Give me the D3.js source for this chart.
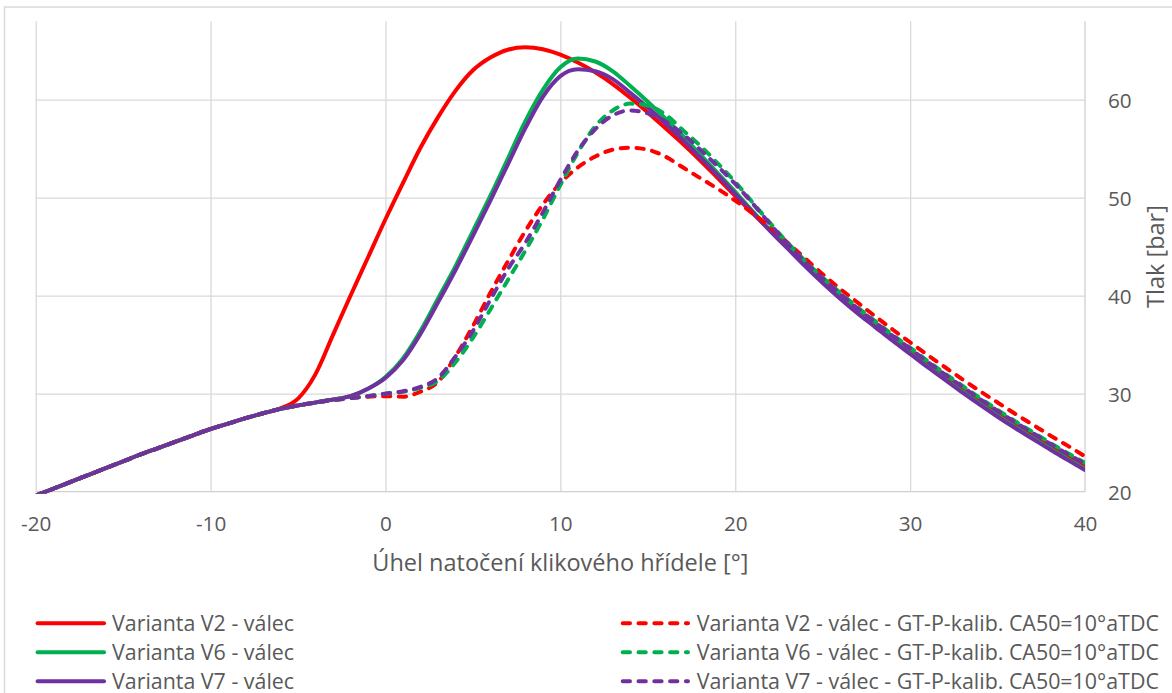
<!DOCTYPE html>
<html>
<head>
<meta charset="utf-8">
<script src="https://cdn.jsdelivr.net/npm/d3@7"></script>
<style>
  html, body { margin: 0; padding: 0; background: #ffffff; }
  svg { display: block; }
  text { font-family: "Open Sans", "Noto Sans", sans-serif; fill: #595959; }
</style>
</head>
<body>
<svg id="chart" width="1172" height="693"></svg>
<script>
// Crank angle [deg] shared by every series
const angle = [-20, -19, -18, -17, -16, -15, -14, -13, -12, -11, -10, -9, -8, -7, -6, -5, -4, -3, -2, -1,
  0, 1, 2, 3, 4, 5, 6, 7, 8, 9, 10, 11, 12, 13, 14, 15, 16, 17, 18, 19, 20,
  21, 22, 23, 24, 25, 26, 27, 28, 29, 30, 31, 32, 33, 34, 35, 36, 37, 38, 39, 40];

// Cylinder pressure [bar]
const v2Valec = [19.6, 20.3, 21.0, 21.7, 22.4, 23.1, 23.8, 24.45, 25.1, 25.75, 26.4, 26.95, 27.5, 28.0,
  28.5, 29.5, 32.0, 36.0, 40.0, 43.9, 47.8, 51.5, 55.1, 58.2, 60.9, 63.0, 64.3, 65.1, 65.35, 65.15,
  64.6, 63.8, 62.8, 61.6, 60.2, 58.7, 57.1, 55.5, 53.8, 52.0, 50.2, 48.4, 46.65, 44.95, 43.3, 41.6,
  40.0, 38.5, 37.1, 35.7, 34.35, 33.0, 31.7, 30.4, 29.2, 28.0, 26.85, 25.75, 24.65, 23.6, 22.6];

const v6Valec = [19.6, 20.3, 21.0, 21.7, 22.4, 23.1, 23.8, 24.45, 25.1, 25.75, 26.4, 26.95, 27.5, 28.0,
  28.45, 28.8, 29.1, 29.4, 29.75, 30.5, 31.7, 33.6, 36.4, 39.7, 43.0, 46.6, 50.2, 54.0, 57.8, 61.0,
  63.3, 64.2, 63.9, 62.9, 61.4, 59.8, 58.1, 56.3, 54.4, 52.5, 50.6, 48.6, 46.7, 44.9, 43.1, 41.4,
  39.8, 38.3, 36.9, 35.5, 34.15, 32.8, 31.5, 30.2, 28.95, 27.75, 26.6, 25.5, 24.4, 23.35, 22.3];

const v7Valec = [19.6, 20.3, 21.0, 21.7, 22.4, 23.1, 23.8, 24.45, 25.1, 25.75, 26.4, 26.95, 27.5, 28.0,
  28.45, 28.8, 29.1, 29.4, 29.75, 30.5, 31.6, 33.4, 36.1, 39.3, 42.6, 46.1, 49.7, 53.4, 57.1, 60.3,
  62.4, 63.1, 62.9, 62.1, 60.7, 59.2, 57.6, 55.9, 54.1, 52.3, 50.4, 48.5, 46.6, 44.8, 43.0, 41.3,
  39.7, 38.2, 36.8, 35.4, 34.05, 32.7, 31.4, 30.1, 28.85, 27.65, 26.5, 25.4, 24.3, 23.25, 22.2];

const v2Kalib = [19.6, 20.3, 21.0, 21.7, 22.4, 23.1, 23.8, 24.45, 25.1, 25.75, 26.4, 26.95, 27.5, 28.0,
  28.45, 28.8, 29.1, 29.35, 29.55, 29.7, 29.75, 29.7, 30.2, 31.2, 33.8, 36.9, 40.3, 43.5, 46.6, 49.3,
  51.5, 53.1, 54.2, 54.9, 55.1, 54.9, 54.2, 53.1, 52.0, 50.9, 49.7, 48.4, 47.0, 45.4, 43.8, 42.2,
  40.7, 39.3, 37.9, 36.55, 35.25, 33.95, 32.7, 31.45, 30.25, 29.1, 27.95, 26.85, 25.75, 24.7, 23.6];

const v6Kalib = [19.6, 20.3, 21.0, 21.7, 22.4, 23.1, 23.8, 24.45, 25.1, 25.75, 26.4, 26.95, 27.5, 28.0,
  28.45, 28.8, 29.1, 29.35, 29.55, 29.75, 30.0, 30.2, 30.6, 31.3, 33.2, 35.7, 38.6, 41.6, 44.6, 47.8,
  51.3, 54.6, 57.3, 58.9, 59.6, 59.4, 58.5, 56.9, 55.3, 53.5, 51.6, 49.5, 47.4, 45.4, 43.55, 41.85,
  40.3, 38.8, 37.4, 36.0, 34.7, 33.35, 32.05, 30.8, 29.55, 28.35, 27.2, 26.1, 25.0, 23.95, 22.95];

const v7Kalib = [19.6, 20.3, 21.0, 21.7, 22.4, 23.1, 23.8, 24.45, 25.1, 25.75, 26.4, 26.95, 27.5, 28.0,
  28.45, 28.8, 29.1, 29.35, 29.55, 29.75, 30.0, 30.25, 30.7, 31.6, 33.8, 36.4, 39.6, 42.7, 45.4, 48.5,
  51.8, 54.8, 57.0, 58.4, 58.9, 58.6, 57.8, 56.5, 54.9, 53.2, 51.4, 49.4, 47.3, 45.3, 43.45, 41.75,
  40.2, 38.7, 37.3, 35.9, 34.6, 33.25, 31.95, 30.7, 29.45, 28.25, 27.1, 26.0, 24.9, 23.85, 22.85];

// Series names, in drawing order
const seriesNames = [
  "Varianta V2 - válec",
  "Varianta V6 - válec",
  "Varianta V7 - válec",
  "Varianta V2 - válec - GT-P-kalib. CA50=10°aTDC",
  "Varianta V6 - válec - GT-P-kalib. CA50=10°aTDC",
  "Varianta V7 - válec - GT-P-kalib. CA50=10°aTDC"
];
const seriesValues = [v2Valec, v6Valec, v7Valec, v2Kalib, v6Kalib, v7Kalib];
const seriesColors = ["#FF0000", "#00B050", "#7030A0", "#FF0000", "#00B050", "#7030A0"];
const seriesDashed = [false, false, false, true, true, true];

// Axis ticks
const xTicks = [-20, -10, 0, 10, 20, 30, 40];
const xTickLabels = ["-20", "-10", "0", "10", "20", "30", "40"];
const yTicks = [20, 30, 40, 50, 60];
const yTickLabels = ["20", "30", "40", "50", "60"];
const xTitle = "Úhel natočení klikového hřídele [°]";
const yTitle = "Tlak [bar]";

// ---- layout ----
const plot = { left: 35.7, right: 1085, top: 21.3, bottom: 491.7 };
const x = d3.scaleLinear().domain([-20, 40]).range([plot.left, plot.right]);
const y = d3.scaleLinear().domain([20, 68]).range([plot.bottom, plot.top]);

const svg = d3.select("#chart");
const gridColor = "#d9d9d9";

// chart frame
svg.append("rect")
  .attr("x", 4.5).attr("y", 7).attr("width", 1200).attr("height", 720)
  .attr("fill", "none").attr("stroke", gridColor).attr("stroke-width", 1.5);

// vertical gridlines
const xGrid = svg.append("g")
  .attr("transform", `translate(0,${plot.bottom})`)
  .call(d3.axisBottom(x).tickValues(xTicks.slice(0, -1)).tickSize(-(plot.bottom - plot.top)).tickFormat(""));
xGrid.select(".domain").remove();
xGrid.selectAll(".tick line").attr("stroke", gridColor).attr("stroke-width", 1.3);

// horizontal gridlines
const yGrid = svg.append("g")
  .attr("transform", `translate(${plot.left},0)`)
  .call(d3.axisRight(y).tickValues(yTicks.slice(1)).tickSize(plot.right - plot.left).tickFormat(""));
yGrid.select(".domain").remove();
yGrid.selectAll(".tick line").attr("stroke", gridColor).attr("stroke-width", 1.3);

// axis lines
svg.append("line")
  .attr("x1", plot.left).attr("x2", plot.right).attr("y1", plot.bottom).attr("y2", plot.bottom)
  .attr("stroke", "#cfcfcf").attr("stroke-width", 1.3);
svg.append("line")
  .attr("x1", plot.right).attr("x2", plot.right).attr("y1", plot.top).attr("y2", plot.bottom)
  .attr("stroke", "#cfcfcf").attr("stroke-width", 1.3);

// x tick labels
const xAxis = svg.append("g")
  .attr("transform", `translate(0,${plot.bottom})`)
  .call(d3.axisBottom(x).tickValues(xTicks).tickSize(0)
    .tickFormat((d, i) => xTickLabels[i]));
xAxis.select(".domain").remove();
xAxis.selectAll("text")
  .attr("y", 39.3).attr("dy", 0)
  .style("font-size", "20.7px").style("fill", "#595959");

// y tick labels (right side)
const yAxis = svg.append("g")
  .attr("transform", `translate(${plot.right},0)`)
  .call(d3.axisRight(y).tickValues(yTicks).tickSize(0)
    .tickFormat((d, i) => yTickLabels[i]));
yAxis.select(".domain").remove();
yAxis.selectAll("text")
  .attr("x", 23).attr("dy", "0.36em").attr("text-anchor", "start")
  .style("font-size", "20.7px").style("fill", "#595959");

// axis titles
svg.append("text")
  .attr("x", (plot.left + plot.right) / 2).attr("y", 571)
  .attr("text-anchor", "middle").style("font-size", "23.5px")
  .text(xTitle);
svg.append("text")
  .attr("transform", `translate(1163.5,${(plot.top + plot.bottom) / 2}) rotate(-90)`)
  .attr("text-anchor", "middle").style("font-size", "23.5px")
  .text(yTitle);

// ---- series ----
svg.append("clipPath").attr("id", "plotClip")
  .append("rect")
  .attr("x", plot.left).attr("y", plot.top - 2)
  .attr("width", plot.right - plot.left).attr("height", plot.bottom - plot.top + 4);

const line = d3.line()
  .x((d, i) => x(angle[i]))
  .y(d => y(d))
  .curve(d3.curveMonotoneX);

const dashPattern = "7.3 8.5";
const lines = svg.append("g").attr("clip-path", "url(#plotClip)");
seriesValues.forEach((vals, k) => {
  lines.append("path")
    .datum(vals)
    .attr("d", line)
    .attr("fill", "none")
    .attr("stroke", seriesColors[k])
    .attr("stroke-width", 4)
    .attr("stroke-linecap", "round")
    .attr("stroke-linejoin", "round")
    .attr("stroke-dasharray", seriesDashed[k] ? dashPattern : null);
});

// ---- legend ----
const legendRows = [623.3, 652.3, 681.3];
const legendCols = [
  { x1: 37.6, x2: 104, tx: 112 },
  { x1: 622.7, x2: 688, tx: 696.7 }
];
const legend = svg.append("g");
seriesNames.forEach((name, k) => {
  const col = legendCols[seriesDashed[k] ? 1 : 0];
  const ry = legendRows[k % 3];
  legend.append("line")
    .attr("x1", col.x1).attr("x2", col.x2).attr("y1", ry).attr("y2", ry)
    .attr("stroke", seriesColors[k]).attr("stroke-width", 4)
    .attr("stroke-linecap", "round")
    .attr("stroke-dasharray", seriesDashed[k] ? dashPattern : null);
  legend.append("text")
    .attr("x", col.tx).attr("y", ry + 7.5)
    .style("font-size", "21.4px")
    .text(name);
});
</script>
</body>
</html>
